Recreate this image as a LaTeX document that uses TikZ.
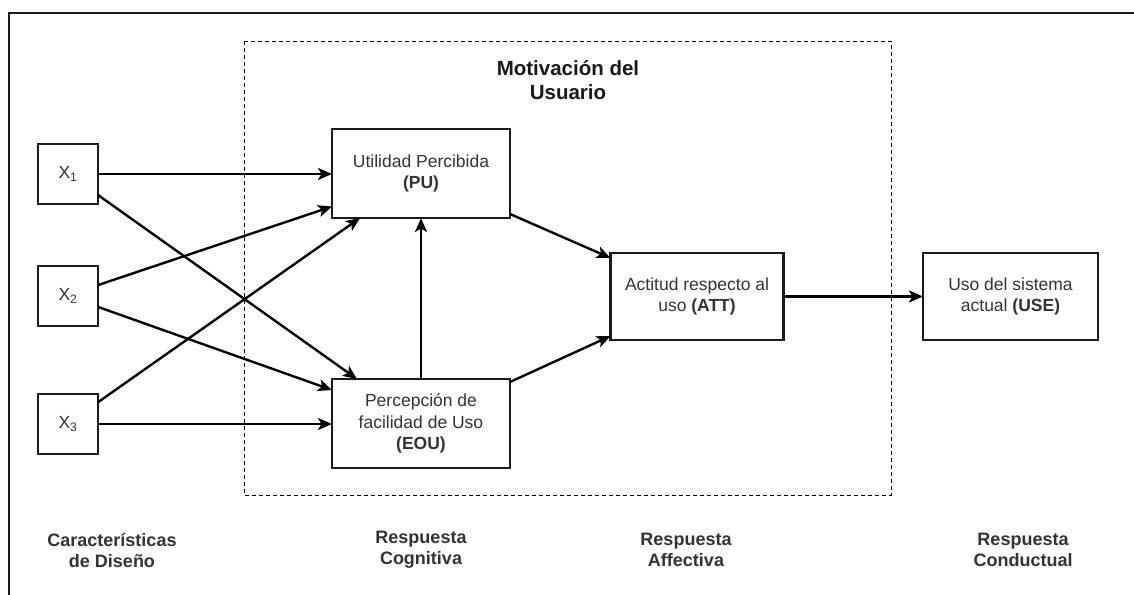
\documentclass[tikz,border=0pt]{standalone}
\usepackage{fontspec}
\setmainfont{Liberation Sans}
\usetikzlibrary{arrows.meta,calc}
\definecolor{txt}{HTML}{333333}
\definecolor{ink}{HTML}{1A1A1A}
\newcommand{\regfont}{\fontsize{17.5}{21.5}\selectfont}
\newcommand{\labfont}{\fontsize{18}{21}\selectfont\bfseries}
\newcommand{\ttlfont}{\fontsize{20.5}{24}\selectfont\bfseries}
\begin{document}
\begin{tikzpicture}[x=1pt,y=-1pt,
  box/.style={draw=ink, line width=2.6pt, fill=white, inner sep=2pt, outer sep=0pt,
    align=center, text=txt, font=\regfont},
  xbox/.style={box, minimum width=60pt, minimum height=60pt},
  bigbox/.style={box, minimum width=178pt, minimum height=89pt},
  midbox/.style={box, minimum width=173pt, minimum height=87pt},
  arr/.style={draw=black, line width=2.4pt, -{Stealth[length=14pt,width=12pt,inset=3.5pt]}},
  lab/.style={align=center, text=txt, font=\labfont},
]
\useasboundingbox (0,0) rectangle (1134,594);
\fill[white] (0,0) rectangle (1134,594);

% outer frame (left and top edges)
\coordinate (fb) at (9,595);
\coordinate (fc) at (9,13);
\coordinate (fr) at (1135,13);
\draw[ink, line width=2.6pt] (fb) -- (fc) -- (fr);

% dashed region
\draw[black, line width=0.9pt, dash pattern=on 4pt off 3pt] (244,41) rectangle (891,495);
\node[align=center, text=black!90, font=\ttlfont] (title) at (568,80) {Motivación del\\Usuario};

% inputs
\node[xbox] (x1) at (68,174) {X\textsubscript{1}};
\node[xbox] (x2) at (68,296) {X\textsubscript{2}};
\node[xbox] (x3) at (68,424) {X\textsubscript{3}};

% cognitive / affective / behavioural boxes
\node[bigbox] (pu)  at (421,173.5) {Utilidad Percibida\\\textbf{(PU)}};
\node[bigbox] (eou) at (421,423.5) {Percepción de\\facilidad de Uso\\\textbf{(EOU)}};
\node[midbox] (att) at (697,296.5) {Actitud respecto al\\uso \textbf{(ATT)}};
\node[midbox, minimum width=175pt] (use) at (1010.5,296.5) {Uso del sistema\\actual \textbf{(USE)}};

% connectors
\draw[arr] (x1.east) -- (x1.east -| pu.west);
\draw[arr] (x1.-35) -- ([xshift=25pt]eou.north west);
\draw[arr] (x2.20) -- ([yshift=-33pt]pu.west);
\draw[arr] (x2.-20) -- ([yshift=-11pt]eou.north west);
\draw[arr] (x3.36) -- ([xshift=28pt]pu.south west);
\draw[arr] (x3.east) -- (x3.east -| eou.west);
\draw[arr] (eou.north) -- (pu.south);
\draw[arr] ([yshift=4pt]pu.south east) -- ([yshift=-5pt]att.north west);
\draw[arr] ([yshift=-3pt]eou.north east) -- ([yshift=4pt]att.south west);
\draw[arr] (att.east) -- (use.west);

% stage labels
\node[lab] (l1) at (112,550) {Características\\de Diseño};
\node[lab] (l2) at (421,550) {Respuesta\\Cognitiva};
\node[lab] (l3) at (686,550) {Respuesta\\Affectiva};
\node[lab] (l4) at (1023,550) {Respuesta\\Conductual};
\end{tikzpicture}
\end{document}
